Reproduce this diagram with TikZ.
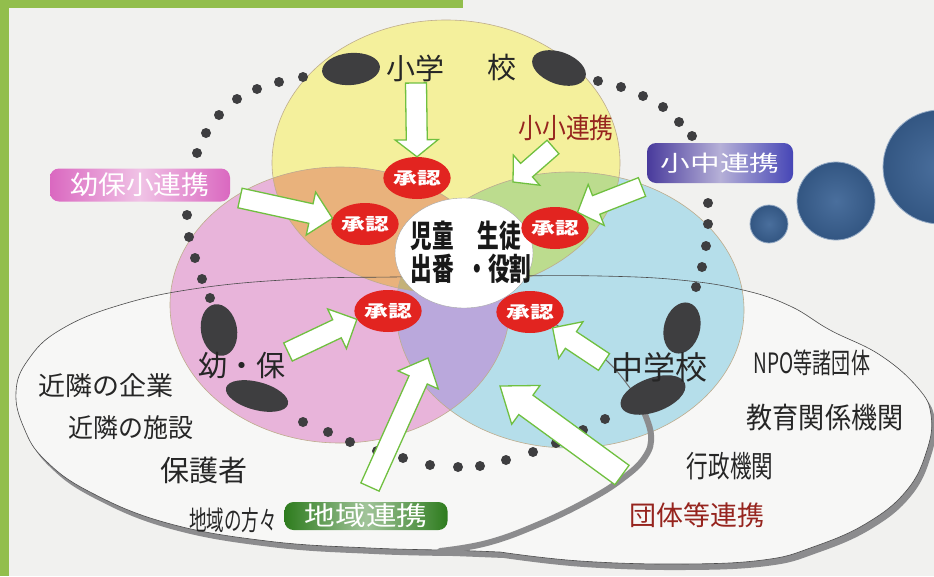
\documentclass[tikz,border=0pt]{standalone}
\usepackage{fontspec}
\setmainfont{Noto Sans CJK JP}
\usetikzlibrary{shapes.geometric,calc}

\definecolor{bggray}{RGB}{241,241,239}
\definecolor{fillgray}{RGB}{247,247,246}
\definecolor{framegreen}{RGB}{146,190,76}
\definecolor{shadowgray}{RGB}{140,140,142}
\definecolor{schyellow}{RGB}{244,240,156}
\definecolor{schpink}{RGB}{232,180,218}
\definecolor{schblue}{RGB}{181,222,234}
\definecolor{mixorange}{RGB}{233,178,124}
\definecolor{mixgreen}{RGB}{188,220,142}
\definecolor{mixpurple}{RGB}{186,168,220}
\definecolor{mixolive}{RGB}{196,178,120}
\definecolor{ringline}{RGB}{190,172,140}
\definecolor{okred}{RGB}{226,36,32}
\definecolor{dotgray}{RGB}{62,62,64}
\definecolor{arrowgreen}{RGB}{112,192,64}
\definecolor{bubbleblue}{RGB}{58,98,148}
\definecolor{textred}{RGB}{150,36,30}
\definecolor{tagpink}{RGB}{218,104,192}
\definecolor{tagindigo}{RGB}{72,58,156}
\definecolor{tagblue}{RGB}{70,70,182}
\definecolor{taggreen}{RGB}{46,124,30}

\newcommand{\hscale}[2]{\scalebox{#1}[1]{#2}}
\newcommand{\blockarrow}[5]{%
  \coordinate (ahbase) at ($(#2)!#5!(#1)$);
  \draw[bigarrow] ($(#1)!#3!90:(#2)$) -- ($(ahbase)!#3!90:(#2)$)
    -- ($(ahbase)!#4!90:(#2)$) -- (#2) -- ($(ahbase)!#4!-90:(#2)$)
    -- ($(ahbase)!#3!-90:(#2)$) -- ($(#1)!#3!-90:(#2)$) -- cycle;}

\tikzset{
  okmark/.style={ellipse, fill=okred, text=white, minimum width=54pt,
    minimum height=42pt, inner sep=0pt, font=\fontsize{17}{17}\selectfont\bfseries},
  schooltext/.style={inner sep=0pt, text=black!85, font=\fontsize{29}{29}\selectfont},
  commtext/.style={inner sep=0pt, text=black!85, font=\fontsize{26}{26}\selectfont},
  coretext/.style={inner sep=0pt, align=center, text=black!90,
    font=\fontsize{31}{33}\selectfont\bfseries},
  tagbox/.style={rounded corners=9pt, text=white, inner sep=0pt},
  bigarrow/.style={draw=arrowgreen, fill=white, line width=1.3pt, line join=miter},
  bubble/.style={inner color=bubbleblue!92!white, outer color=bubbleblue!88!black}
}

\begin{document}
\begin{tikzpicture}[x=1pt,y=-1pt]
\useasboundingbox (0,0) rectangle (934,576);
\fill[bggray] (0,0) rectangle (934,576);
\fill[framegreen] (0,0) rectangle (463,8);
\fill[framegreen] (0,0) rectangle (9,576);

% community area
\def\community{plot[smooth, tension=0.7] coordinates {(500,552) (580,561)
  (680,564) (763,560) (813,547) (867,523) (907,490) (927,450) (931,415) (918,388)
  (880,355) (830,330) (790,306) (743,290) (680,280) (600,276) (500,276) (393,277)
  (300,279) (200,288) (120,305) (60,330) (28,360) (16,392) (24,428) (45,460)
  (90,492) (167,523) (267,541) (370,548) (450,550)} -- cycle}
\fill[shadowgray, shift={(4,6)}] \community;
\fill[fillgray] \community;

% three schools
\def\yellowpath{(272,163) arc[start angle=180, end angle=360, x radius=174, y radius=143]
  arc[start angle=0, end angle=180, x radius=174, y radius=130] -- cycle}
\def\pinkpath{(340,305) ellipse[x radius=170, y radius=138]}
\def\bluepath{(570,310) ellipse[x radius=174, y radius=138]}
\fill[schyellow] \yellowpath;
\fill[schpink] \pinkpath;
\fill[schblue] \bluepath;
\begin{scope}
  \clip \yellowpath;
  \fill[mixorange] \pinkpath;
  \fill[mixgreen] \bluepath;
\end{scope}
\begin{scope}
  \clip \pinkpath;
  \fill[mixpurple] \bluepath;
  \clip \yellowpath;
  \fill[mixolive] \bluepath;
\end{scope}
\draw[ringline, line width=0.6pt] \yellowpath;
\draw[ringline, line width=0.6pt] \pinkpath;
\draw[ringline, line width=0.6pt] \bluepath;

\draw[black!70, line width=0.6pt] \community;
\draw[shadowgray, line width=6pt, line cap=round] plot[smooth, tension=0.7]
  coordinates {(440,551) (487,543) (537,525) (587,501) (622,479) (645,457) (651,435) (643,410)};
\draw[shadowgray!80!black, line width=1pt] (640,402) .. controls (610,360) .. (552,322);

\node[ellipse, draw=gray!70, fill=white, minimum width=138pt, minimum height=110pt] (core) at (464,253) {};

% dotted ring
\foreach \p in {(303,77),(279,82),(257,89),(237,99),(219,115),(206,133),(197,153),
  (187,215),(189,237),(195,258),(202,279),(210,298),
  (303,422),(328,432),(350,442),(377,451),(403,458),(430,465),
  (458,467),(480,466),(506,460),(533,452),(556,443),(583,430),(605,419),
  (598,81),(621,87),(643,96),(663,107),(679,122),(692,136),
  (708,203),(708,224),(706,246),(702,267),(696,287)}
  \fill[dotgray] \p circle[radius=5];
\fill[dotgray, rotate around={5:(351,69)}] (351,69) ellipse[x radius=29, y radius=16];
\fill[dotgray, rotate around={-20:(559,68)}] (559,68) ellipse[x radius=28, y radius=16];
\fill[dotgray, rotate around={10:(219,330)}] (219,330) ellipse[x radius=18, y radius=26];
\fill[dotgray, rotate around={-15:(257,396)}] (257,396) ellipse[x radius=32, y radius=14];
\fill[dotgray, rotate around={-15:(682,328)}] (682,328) ellipse[x radius=18, y radius=26];
\fill[dotgray, rotate around={20:(653,395)}] (653,395) ellipse[x radius=34, y radius=17];

% approvals
\node[okmark] (okTop) at (417,178) {\hscale{1.4}{承認}};
\node[okmark] (okLeft) at (365,224) {\hscale{1.4}{承認}};
\node[okmark] (okRight) at (555,228) {\hscale{1.4}{承認}};
\node[okmark] (okLL) at (388,311) {\hscale{1.4}{承認}};
\node[okmark] (okLR) at (530,312) {\hscale{1.4}{承認}};

\node[coretext] (pupilText) at (432,252) {\hscale{0.7}{児童}\\\hscale{0.7}{出番}};
\node[coretext] (studentText) at (499,252) {\hscale{0.7}{生徒}\\\hscale{0.7}{・役割}};

\node[schooltext] (elemA) at (415,68) {小学};
\node[schooltext] (elemB) at (502,68) {校};
\node[schooltext] (kinder) at (242,366) {幼・保};
\node[schooltext, font=\fontsize{32}{32}\selectfont] (junior) at (659,367) {中学校};

\node[inner sep=0pt, text=textred, font=\fontsize{28}{28}\selectfont] (ssLink) at (566,128) {\hscale{0.85}{小小連携}};
\node[inner sep=0pt, text=textred, font=\fontsize{27}{27}\selectfont] (groupLink) at (697,515) {団体等連携};

\node[commtext] (firms) at (106,386) {\hscale{1.04}{近隣の企業}};
\node[commtext] (facilities) at (131,428) {\hscale{0.96}{近隣の施設}};
\node[commtext, font=\fontsize{29}{29}\selectfont] (parents) at (204,470) {保護者};
\node[commtext, font=\fontsize{27}{27}\selectfont] (locals) at (233,520) {\hscale{0.65}{地域の方々}};
\node[commtext, font=\fontsize{28}{28}\selectfont] (npo) at (812,363) {\hscale{0.68}{NPO等諸団体}};
\node[commtext, font=\fontsize{29}{29}\selectfont] (eduorg) at (825,418) {\hscale{0.9}{教育関係機関}};
\node[commtext, font=\fontsize{30}{30}\selectfont] (govorg) at (730,466) {\hscale{0.72}{行政機関}};

% arrows
\coordinate (topTail) at (416,83);
\coordinate (ypTail) at (240,198);
\coordinate (ssTail) at (553,147);
\coordinate (ssTip) at (513,182);
\coordinate (scTail) at (642,187);
\coordinate (kinderTail) at (288,352);
\coordinate (juniorTail) at (604,362);
\coordinate (areaTail) at (370,487);
\coordinate (areaTip) at (428,358);
\coordinate (groupTail) at (622,475);
\coordinate (groupTip) at (500,386);
\blockarrow{topTail}{okTop.north}{10.5pt}{21.5pt}{17pt}
\blockarrow{ypTail}{okLeft.170}{10pt}{22pt}{22pt}
\blockarrow{ssTail}{ssTip}{9pt}{20pt}{18pt}
\blockarrow{scTail}{okRight.35}{10pt}{22pt}{20pt}
\blockarrow{kinderTail}{okLL.195}{10pt}{22pt}{22pt}
\blockarrow{juniorTail}{okLR.-35}{10pt}{22pt}{22pt}
\blockarrow{areaTail}{areaTip}{10pt}{22pt}{24pt}
\blockarrow{groupTail}{groupTip}{12pt}{24pt}{32pt}

% tags
\node[tagbox, left color=tagpink, right color=tagpink, middle color=tagpink!40!white,
  minimum width=180pt, minimum height=33pt, font=\fontsize{26}{26}\selectfont]
  (ypTag) at (140,185) {\hscale{1.07}{幼保小連携}};
\node[tagbox, left color=tagindigo, right color=tagblue, middle color=tagindigo!40!white,
  minimum width=146pt, minimum height=40pt, font=\fontsize{22}{22}\selectfont]
  (scTag) at (720,163) {\hscale{1.35}{小中連携}};
\node[tagbox, left color=taggreen, right color=taggreen, middle color=taggreen!45!white,
  minimum width=163pt, minimum height=28pt, font=\fontsize{26}{26}\selectfont]
  (areaTag) at (366,516) {\hscale{1.18}{地域連携}};

% bubbles
\shade[bubble] (769,224) circle[radius=19];
\shade[bubble] (836,201) circle[radius=39];
\shade[bubble] (940,167) circle[radius=57];
\draw[bubbleblue!55!white, line width=0.8pt] (769,224) circle[radius=19];
\draw[bubbleblue!55!white, line width=0.8pt] (836,201) circle[radius=39];
\draw[bubbleblue!55!white, line width=0.8pt] (940,167) circle[radius=57];
\end{tikzpicture}
\end{document}
